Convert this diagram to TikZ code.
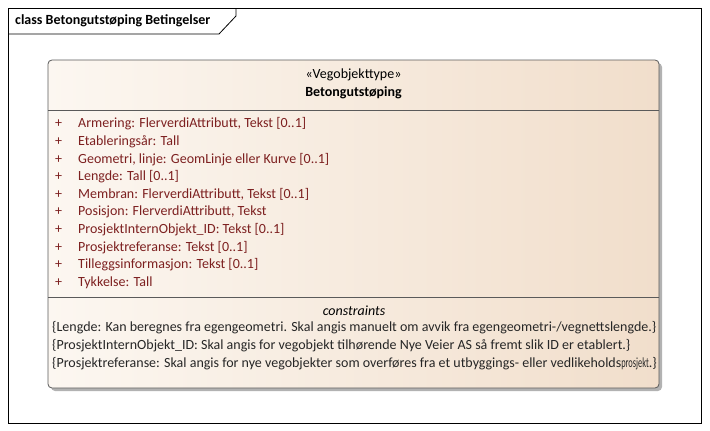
\documentclass[tikz,border=0pt]{standalone}
\usepackage{fontspec}
\setmainfont{Carlito}
\usepackage{tikz}
\definecolor{attrred}{RGB}{125,32,32}
\definecolor{boxleft}{RGB}{252,247,241}
\definecolor{boxright}{RGB}{241,222,203}
\definecolor{edgegray}{RGB}{90,90,90}
\begin{document}
\begin{tikzpicture}[x=1pt,y=-1pt]
    \tikzstyle{every node} = [font=\fontsize{14}{16}\selectfont, inner sep=0pt]
    \tikzstyle{attr} = [anchor=west, text=attrred]
    \tikzstyle{constr} = [anchor=west, text=black!85]
    \useasboundingbox (0,0) rectangle (710,431);
    % frame
    \draw[black, line width=0.8pt] (8,8) rectangle (701,423);
    \draw[black, line width=0.8pt] (8,34) -- (219,34) -- (236,16) -- (236,8);
    \node[anchor=west, font=\fontsize{14}{16}\selectfont\bfseries](frameTitle) at (15,21){class Betongutstøping Betingelser};
    % class box
    \fill[black!30, rounded corners=4pt] (51,63) rectangle (662,391);
    \shade[left color=boxleft, right color=boxright, rounded corners=4pt] (48,60) rectangle (659,388);
    \draw[edgegray, line width=0.8pt, rounded corners=4pt] (48,60) rectangle (659,388);
    \draw[edgegray, line width=0.8pt] (48,110) -- (659,110);
    \draw[edgegray, line width=0.8pt] (48,297) -- (659,297);
    % place nodes
    \node(stereotype) at (353.5,75){«Vegobjekttype»};
    \node[font=\fontsize{14}{16}\selectfont\bfseries](className) at (353.5,93){Betongutstøping};
    \foreach \txt [count=\i] in {{Armering: FlerverdiAttributt, Tekst [0..1]},
        {Etableringsår: Tall},
        {Geometri, linje: GeomLinje eller Kurve [0..1]},
        {Lengde: Tall [0..1]},
        {Membran: FlerverdiAttributt, Tekst [0..1]},
        {Posisjon: FlerverdiAttributt, Tekst},
        {ProsjektInternObjekt\_ID: Tekst [0..1]},
        {Prosjektreferanse: Tekst [0..1]},
        {Tilleggsinformasjon: Tekst [0..1]},
        {Tykkelse: Tall}}{
        \node[attr](plus\i) at (55,106.5+17.6*\i){+};
        \node[attr](attr\i) at (78,106.5+17.6*\i){\txt};
    }
    \node[font=\fontsize{14}{16}\selectfont\itshape](constrTitle) at (354,311){constraints};
    \node[constr](constr1) at (52,328){\{Lengde: Kan beregnes fra egengeometri. Skal angis manuelt om avvik fra egengeometri-/vegnettslengde.\}};
    \node[constr](constr2) at (52,346){\{ProsjektInternObjekt\_ID: Skal angis for vegobjekt tilhørende Nye Veier AS så fremt slik ID er etablert.\}};
    \node[constr](constr3) at (52,364){\{Prosjektreferanse: Skal angis for nye vegobjekter som overføres fra et utbyggings- eller vedlikeholds\scalebox{0.6}[1]{prosjekt}.\}};
  \end{tikzpicture}
\end{document}
